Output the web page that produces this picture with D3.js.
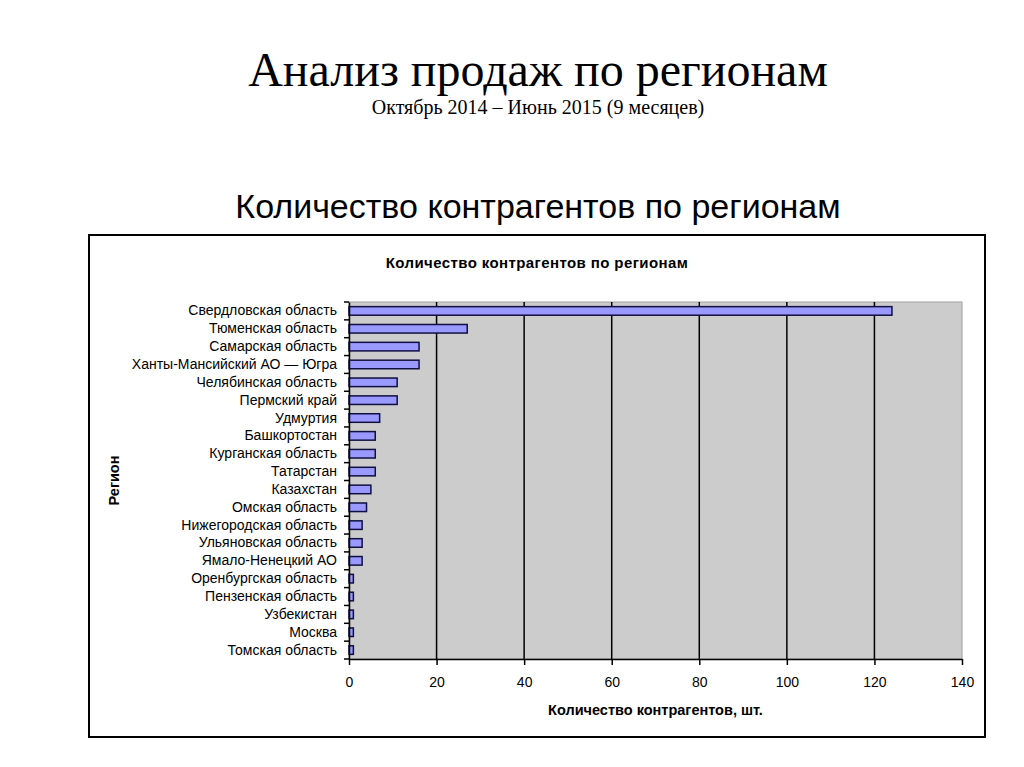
<!DOCTYPE html>
<html>
<head>
<meta charset="utf-8">
<script src="https://cdn.jsdelivr.net/npm/d3@7"></script>
<style>
  html, body { margin: 0; padding: 0; background: #fff; }
  svg { display: block; }
</style>
</head>
<body>
<svg id="chart" width="1024" height="767"></svg>
<script>
const regions = [
  "Свердловская область", "Тюменская область", "Самарская область",
  "Ханты-Мансийский АО — Югра", "Челябинская область", "Пермский край",
  "Удмуртия", "Башкортостан", "Курганская область", "Татарстан",
  "Казахстан", "Омская область", "Нижегородская область",
  "Ульяновская область", "Ямало-Ненецкий АО", "Оренбургская область",
  "Пензенская область", "Узбекистан", "Москва", "Томская область"
];
const counts = [124, 27, 16, 16, 11, 11, 7, 6, 6, 6, 5, 4, 3, 3, 3, 1, 1, 1, 1, 1];
const xTicks = [0, 20, 40, 60, 80, 100, 120, 140];

const mainTitle = "Анализ продаж по регионам";
const subTitle = "Октябрь 2014 – Июнь 2015 (9 месяцев)";
const sectionTitle = "Количество контрагентов по регионам";
const chartTitle = "Количество контрагентов по регионам";
const xTitle = "Количество контрагентов, шт.";
const yTitle = "Регион";

const svg = d3.select("#chart");
const sans = "Arial, 'Liberation Sans', sans-serif";
const serif = "'Times New Roman', 'Liberation Serif', serif";

svg.append("text").attr("x", 538).attr("y", 86).attr("text-anchor", "middle")
  .style("font-family", serif).style("font-size", "48px").text(mainTitle);
svg.append("text").attr("x", 538).attr("y", 114).attr("text-anchor", "middle")
  .style("font-family", serif).style("font-size", "20px").text(subTitle);
svg.append("text").attr("x", 538).attr("y", 218).attr("text-anchor", "middle")
  .style("font-family", sans).style("font-size", "34px").text(sectionTitle);

// chart frame
svg.append("rect").attr("x", 89).attr("y", 235).attr("width", 896).attr("height", 502)
  .attr("fill", "#fff").attr("stroke", "#000").attr("stroke-width", 2);

svg.append("text").attr("x", 537).attr("y", 268).attr("text-anchor", "middle")
  .style("font-family", sans).style("font-size", "15px").style("font-weight", "bold")
  .style("letter-spacing", "0.4px").text(chartTitle);

const pL = 349, pR = 962, pT = 302, pB = 659;
const x = d3.scaleLinear().domain([0, 140]).range([pL, pR]);
const y = d3.scaleBand().domain(regions).range([pT, pB]).paddingInner(0.52).paddingOuter(0.26);

// plot area
svg.append("rect").attr("x", pL).attr("y", pT).attr("width", pR - pL).attr("height", pB - pT)
  .attr("fill", "#cccccc").attr("stroke", "#a0a0a0").attr("stroke-width", 1);

// gridlines
svg.append("g").selectAll("line").data(xTicks.filter(t => t > 0 && t < 140)).join("line")
  .attr("x1", d => x(d)).attr("x2", d => x(d)).attr("y1", pT).attr("y2", pB)
  .attr("stroke", "#000").attr("stroke-width", 1.5);

// bars
svg.append("g").selectAll("rect").data(counts).join("rect")
  .attr("x", x(0)).attr("y", (d, i) => y(regions[i]))
  .attr("width", d => x(d) - x(0)).attr("height", y.bandwidth())
  .attr("fill", "#9999ff").attr("stroke", "#101040").attr("stroke-width", 1.5);

// x axis
const xAxis = svg.append("g").attr("transform", `translate(0,${pB})`)
  .call(d3.axisBottom(x).tickValues(xTicks).tickSize(6).tickSizeOuter(0).tickPadding(12));
xAxis.select(".domain").attr("stroke", "#000").attr("stroke-width", 1.5);
xAxis.selectAll(".tick line").attr("stroke", "#000").attr("stroke-width", 1.5);
xAxis.selectAll("text").style("font-family", sans).style("font-size", "14px").attr("fill", "#000");

// y axis (labels)
const yAxis = svg.append("g").attr("transform", `translate(${pL},0)`)
  .call(d3.axisLeft(y).tickSize(0).tickPadding(12));
yAxis.select(".domain").attr("stroke", "#000").attr("stroke-width", 1.5);
yAxis.selectAll("text").style("font-family", sans).style("font-size", "14px").attr("fill", "#000");

// y tick marks at band boundaries
const step = (pB - pT) / regions.length;
svg.append("g").selectAll("line").data(d3.range(regions.length + 1)).join("line")
  .attr("x1", pL - 5).attr("x2", pL)
  .attr("y1", d => pT + d * step).attr("y2", d => pT + d * step)
  .attr("stroke", "#000").attr("stroke-width", 1.5);

// axis titles
svg.append("text").attr("x", (pL + pR) / 2).attr("y", 715).attr("text-anchor", "middle")
  .style("font-family", sans).style("font-size", "14.5px").style("font-weight", "bold").text(xTitle);
svg.append("text").attr("transform", `translate(119,${(pT + pB) / 2}) rotate(-90)`)
  .attr("text-anchor", "middle")
  .style("font-family", sans).style("font-size", "14.5px").style("font-weight", "bold").text(yTitle);
</script>
</body>
</html>
